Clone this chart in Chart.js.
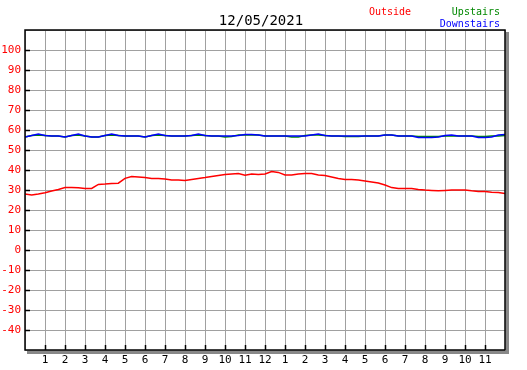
<!DOCTYPE html>
<html><head><meta charset="utf-8">
<script src="https://cdn.jsdelivr.net/npm/chart.js@4/dist/chart.umd.min.js"></script>
<style>html,body{margin:0;padding:0;background:#fff}#wrap{width:527px;height:370px}</style>
</head><body><div id="wrap"><canvas id="c" width="527" height="370"></canvas></div>
<script>
const titleText = '12/05/2021';
const seriesNames = ['Outside', 'Upstairs', 'Downstairs'];
const seriesColors = ['#ff0000', '#008800', '#0000ff'];
const hourLabels = ['', '1','2','3','4','5','6','7','8','9','10','11','12','1','2','3','4','5','6','7','8','9','10','11',''];
const yMin = -50, yMax = 110, yStep = 10;
// samples every 20 minutes from midnight (hours)
const sampleHours = [0,0.333,0.667,1,1.333,1.667,2,2.333,2.667,3,3.333,3.667,4,4.333,4.667,5,5.333,5.667,6,6.333,6.667,7,7.333,7.667,8,8.333,8.667,9,9.333,9.667,10,10.333,10.667,11,11.333,11.667,12,12.333,12.667,13,13.333,13.667,14,14.333,14.667,15,15.333,15.667,16,16.333,16.667,17,17.333,17.667,18,18.333,18.667,19,19.333,19.667,20,20.333,20.667,21,21.333,21.667,22,22.333,22.667,23,23.333,23.667,24];
const outside = [28,27.5,28,28.6,29.5,30.3,31.2,31.3,31.1,30.8,30.8,32.8,33,33.3,33.4,35.8,36.7,36.5,36.2,35.8,35.7,35.5,35,35,34.7,35.3,35.8,36.2,36.8,37.3,37.8,38,38.2,37.4,38,37.8,38,39.2,38.8,37.5,37.5,38,38.3,38.2,37.5,37.2,36.5,35.8,35.3,35.3,35,34.5,34,33.5,32.5,31.2,30.8,30.8,30.7,30.3,30,29.8,29.6,29.8,30,30,30,29.6,29.3,29.3,28.9,28.8,28.3];
const upstairs = [56.5,57.3,57.5,57.3,57,57,56.5,57.3,57.5,57,56.5,56.5,57.3,57.5,57.3,57,57,57,56.5,57.3,57.5,57.3,57,57,57,57.3,57.5,57.3,57,57,56.5,56.8,57.5,57.5,57.5,57.5,57,57,57,57,56.5,56.5,57.3,57.5,57.5,57.3,57,57,56.7,56.7,56.7,57,57,57,57.5,57.5,57,57,57,56.7,56.7,56.7,56.7,57,57,57,57,57,56.7,56.7,57,57,57.3];
const downstairs = [56.5,57.2,58,57.3,57,57,56.5,57.3,58,57,56.5,56.5,57.3,58,57.3,57,57,57,56.5,57.3,58,57.3,57,57,57,57.3,58,57.3,57,57,57,57,57.3,57.8,57.8,57.5,57,57,57,57,57,57,57,57.5,58,57.3,57,57,57,57,57,57,57,57,57.5,57.5,57,57,57,56.2,56.2,56.2,56.5,57.3,57.5,57,57,57,56.2,56.2,56.5,57.5,57.8];

const toPts = arr => arr.map((v, i) => ({x: sampleHours[i], y: v}));
const monoFont = {family: 'DejaVu Sans Mono', size: 11};

const framePlugin = {
  id: 'frame',
  afterDraw(chart) {
    const ctx = chart.ctx, a = chart.chartArea;
    const xs = chart.scales.x, ys = chart.scales.y;
    ctx.save();
    // shadow
    ctx.fillStyle = '#888888';
    ctx.fillRect(a.right + 1, a.top + 2, 3, a.bottom - a.top + 2);
    ctx.fillRect(a.left + 2, a.bottom + 1, a.right - a.left + 2, 3);
    // frame
    ctx.strokeStyle = '#000';
    ctx.lineWidth = 1.5;
    ctx.strokeRect(a.left, a.top, a.right - a.left, a.bottom - a.top);
    // inside ticks
    ctx.lineWidth = 1.5;
    ctx.beginPath();
    for (let v = yMin + yStep; v < yMax; v += yStep) {
      const py = Math.round(ys.getPixelForValue(v)) + 0.5;
      ctx.moveTo(a.left, py); ctx.lineTo(a.left + 5, py);
    }
    for (let h = 1; h < 24; h++) {
      const px = Math.round(xs.getPixelForValue(h)) + 0.5;
      ctx.moveTo(px, a.bottom); ctx.lineTo(px, a.bottom - 5);
    }
    ctx.stroke();
    // title
    ctx.fillStyle = '#000';
    ctx.font = '14px "DejaVu Sans Mono"';
    ctx.textAlign = 'center';
    ctx.textBaseline = 'alphabetic';
    ctx.fillText(titleText, 261, 25);
    // legend
    ctx.font = '10px "DejaVu Sans Mono"';
    ctx.textAlign = 'left';
    ctx.fillStyle = seriesColors[0];
    ctx.fillText(seriesNames[0], 369, 15);
    ctx.textAlign = 'right';
    ctx.fillStyle = seriesColors[1];
    ctx.fillText(seriesNames[1], 500, 15);
    ctx.fillStyle = seriesColors[2];
    ctx.fillText(seriesNames[2], 500, 27);
    ctx.restore();
  }
};

new Chart(document.getElementById('c'), {
  type: 'line',
  data: {
    datasets: [
      {label: seriesNames[2], data: toPts(downstairs), borderColor: seriesColors[2], order: 0},
      {label: seriesNames[1], data: toPts(upstairs), borderColor: seriesColors[1], order: 1},
      {label: seriesNames[0], data: toPts(outside), borderColor: seriesColors[0], order: 2}
    ].map(d => Object.assign(d, {borderWidth: 1.5, pointRadius: 0, tension: 0, fill: false}))
  },
  options: {
    responsive: false,
    animation: false,
    devicePixelRatio: 1,
    layout: {padding: {left: 0, top: 30, right: 22, bottom: 0}},
    plugins: {legend: {display: false}, title: {display: false}, tooltip: {enabled: false}},
    scales: {
      x: {
        type: 'linear', min: 0, max: 24,
        afterFit: s => { s.height = 20; },
        ticks: {stepSize: 1, autoSkip: false, maxRotation: 0, padding: 4, color: '#000', font: monoFont,
          callback: v => hourLabels[v] ?? ''},
        grid: {color: '#a0a0a0', lineWidth: 1, drawTicks: false},
        border: {display: false}
      },
      y: {
        min: yMin, max: yMax,
        afterFit: s => { s.width = 25; },
        ticks: {stepSize: yStep, padding: 4, color: '#ff0000', font: monoFont,
          callback: v => (v === yMin || v === yMax) ? '' : String(v)},
        grid: {color: '#a0a0a0', lineWidth: 1, drawTicks: false},
        border: {display: false}
      }
    }
  },
  plugins: [framePlugin]
});
</script>
</body></html>
